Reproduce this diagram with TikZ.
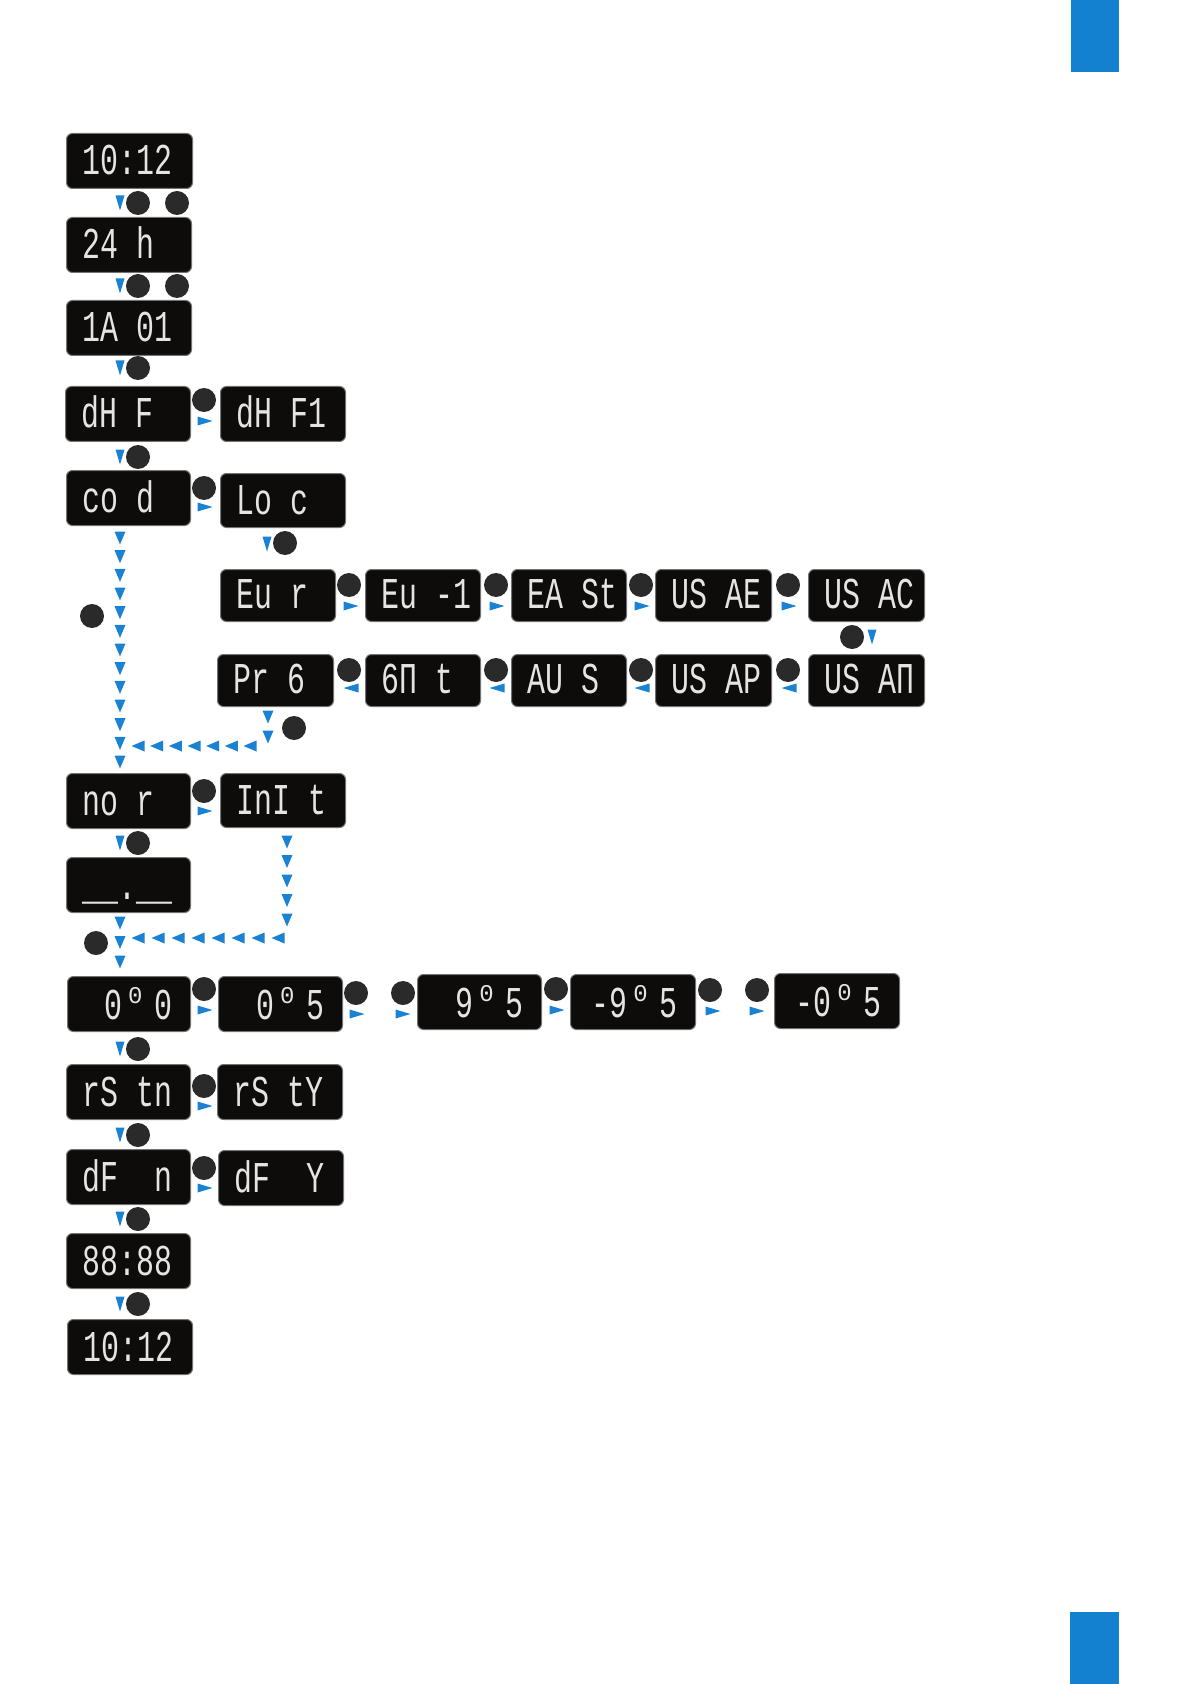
\documentclass[tikz,border=0pt]{standalone}
\usepackage{fontspec}
\usetikzlibrary{calc}
\newfontfamily\lcd{Liberation Mono}[FakeStretch=0.68]
\newfontfamily\lcdsm{Liberation Mono}
\definecolor{abl}{HTML}{1A82D2}
\definecolor{bbl}{HTML}{1380D0}
\definecolor{btn}{HTML}{2A2A2A}
\definecolor{lcdbg}{HTML}{0E0B0B}
\definecolor{lcdfg}{HTML}{E4E4E4}
\tikzset{
  disp/.style={draw=black!55, line width=0.5pt, fill=lcdbg, rounded corners=3pt, inner sep=0pt},
  lcdtext/.style={text=lcdfg, inner sep=0pt, font=\lcd\fontsize{22pt}{22pt}\selectfont},
  btnc/.style={circle, fill=btn, minimum size=12pt, inner sep=0pt},
  trd/.pic={\fill[abl] (-4.5,-7.5) -- (4.5,-7.5) -- (0,7.5) -- cycle;},
  trr/.pic={\fill[abl] (-7.5,-4.5) -- (-7.5,4.5) -- (7.5,0) -- cycle;},
  trl/.pic={\fill[abl] (7.5,-4.5) -- (7.5,4.5) -- (-7.5,0) -- cycle;},
  chd/.pic={\fill[abl] (-5.5,-6.5) -- (5.5,-6.5) -- (0,6.5) -- cycle;},
  chl/.pic={\fill[abl] (6.5,-5.5) -- (6.5,5.5) -- (-6.5,0) -- cycle;},
}
\newcommand\dispbox[6]{%
  \node[disp, anchor=north west, minimum width={(#4-#2)*0.5pt}, minimum height={(#5-#3)*0.5pt}] (#1) at (#2,#3) {};
  \node[lcdtext, anchor=base west] (#1t) at ($(#1.south west)+(16,-14)$) {#6};
}
\newcommand\offbox[8]{% name x1 y1 x2 y2 pre small post
  \node[disp, anchor=north west, minimum width={(#4-#2)*0.5pt}, minimum height={(#5-#3)*0.5pt}] (#1) at (#2,#3) {};
  \node[lcdtext, anchor=base east] (#1t) at ($(#1.south east)+(-18,-13)$)
    {#6\kern3pt\raisebox{8pt}{\lcdsm\fontsize{12pt}{12pt}\selectfont #7}\kern6pt #8};
}
\newcommand\btnat[3]{\node[btnc] (#1) at (#2,#3) {};}
\begin{document}
\begin{tikzpicture}[x=0.5pt,y=-0.5pt]
\useasboundingbox (0,0) rectangle (1191,1684);
\fill[white] (0,0) rectangle (1191,1684);
\fill[bbl] (1071,0) rectangle (1119,72);
\fill[bbl] (1070,1612) rectangle (1119,1684);

% left column
\dispbox{b1}{66}{133}{192}{188}{10:12}
\dispbox{b2}{66}{217}{191}{272}{24~h}
\dispbox{b3}{66}{300}{191}{355}{1A~01}
\dispbox{b4}{65}{386}{190}{441}{dH~F}
\dispbox{b5}{220}{386}{345}{441}{dH~F1}
\dispbox{b6}{66}{470}{190}{525}{co~d}
\dispbox{b7}{220}{473}{345}{527}{Lo~c}
% zone rows
\dispbox{z1}{220}{569}{335}{621}{Eu~r}
\dispbox{z2}{365}{569}{480}{621}{Eu~-1}
\dispbox{z3}{511}{569}{626}{621}{EA~St}
\dispbox{z4}{655}{569}{771}{621}{US~AE}
\dispbox{z5}{808}{569}{924}{621}{US~AC}
\dispbox{z6}{808}{654}{924}{706}{US~AΠ}
\dispbox{z7}{655}{654}{771}{706}{US~AP}
\dispbox{z8}{511}{654}{626}{706}{AU~S}
\dispbox{z9}{365}{654}{480}{706}{6Π~t}
\dispbox{z10}{217}{654}{333}{706}{Pr~6}
% nor / init
\dispbox{n1}{66}{773}{190}{828}{no~r}
\dispbox{n2}{220}{773}{345}{827}{InI~t}
\dispbox{n3}{66}{857}{190}{912}{\_\_.\_\_}
% offsets
\offbox{o1}{67}{976}{190}{1031}{0}{0}{0}
\offbox{o2}{218}{976}{342}{1031}{0}{0}{5}
\offbox{o3}{417}{974}{541}{1029}{9}{0}{5}
\offbox{o4}{570}{974}{695}{1029}{-9}{0}{5}
\offbox{o5}{774}{973}{899}{1028}{-0}{0}{5}
% lower column
\dispbox{r1}{66}{1064}{190}{1119}{rS~tn}
\dispbox{r2}{217}{1064}{342}{1119}{rS~tY}
\dispbox{d1}{66}{1149}{190}{1204}{dF~~n}
\dispbox{d2}{218}{1150}{343}{1205}{dF~~Y}
\dispbox{e1}{66}{1233}{190}{1288}{88:88}
\dispbox{e2}{67}{1319}{192}{1374}{10:12}

% buttons and single markers
\btnat{k1}{138}{203}\btnat{k2}{177}{203}\pic at (120,203) {trd};
\btnat{k3}{138}{286}\btnat{k4}{177}{286}\pic at (120,286) {trd};
\btnat{k5}{138}{368}\pic at (120,368) {trd};
\btnat{k6}{204}{400}\pic at (205,421) {trr};
\btnat{k7}{138}{457}\pic at (120,457) {trd};
\btnat{k8}{204}{488}\pic at (205,507) {trr};
\btnat{k9}{285}{543}\pic at (267,544) {trd};
% row 1
\btnat{k10}{349}{585}\pic at (351,606) {trr};
\btnat{k11}{496}{585}\pic at (497,606) {trr};
\btnat{k12}{641}{585}\pic at (642,606) {trr};
\btnat{k13}{788}{585}\pic at (789,606) {trr};
\btnat{k14}{852}{637}\pic at (872,637) {trd};
% row 2
\btnat{k15}{349}{670}\pic at (351,688) {trl};
\btnat{k16}{496}{670}\pic at (497,688) {trl};
\btnat{k17}{641}{670}\pic at (642,688) {trl};
\btnat{k18}{788}{670}\pic at (789,688) {trl};
\btnat{k19}{294}{728}
\btnat{k20}{92}{616}
% nor
\btnat{k21}{204}{791}\pic at (205,811) {trr};
\btnat{k22}{138}{843}\pic at (120,843) {trd};
\btnat{k23}{96}{943}
% offsets row
\btnat{k24}{204}{989}\pic at (205,1010) {trr};
\btnat{k25}{356}{993}\pic at (357,1014) {trr};
\btnat{k26}{403}{993}\pic at (403,1014) {trr};
\btnat{k27}{556}{989}\pic at (557,1010) {trr};
\btnat{k28}{710}{990}\pic at (713,1011) {trr};
\btnat{k29}{757}{990}\pic at (757,1011) {trr};
% lower
\btnat{k30}{138}{1049}\pic at (120,1049) {trd};
\btnat{k31}{204}{1086}\pic at (205,1106) {trr};
\btnat{k32}{138}{1135}\pic at (120,1135) {trd};
\btnat{k33}{204}{1168}\pic at (205,1188) {trr};
\btnat{k34}{138}{1219}\pic at (120,1219) {trd};
\btnat{k35}{138}{1304}\pic at (120,1304) {trd};

% dashed chains
\coordinate (ca) at (120,538); \coordinate (cb) at (120,762);
\foreach \i in {0,...,12} \pic at ($(ca)!\i/12!(cb)$) {chd};
\coordinate (pa) at (268,717); \coordinate (pb) at (268,737);
\foreach \i in {0,1} \pic at ($(pa)!\i!(pb)$) {chd};
\coordinate (ha) at (250,746); \coordinate (hb) at (138,746);
\foreach \i in {0,...,6} \pic at ($(ha)!\i/6!(hb)$) {chl};
\coordinate (ia) at (287,842); \coordinate (ib) at (287,920);
\foreach \i in {0,...,4} \pic at ($(ia)!\i/4!(ib)$) {chd};
\coordinate (ja) at (278,938); \coordinate (jb) at (138,938);
\foreach \i in {0,...,7} \pic at ($(ja)!\i/7!(jb)$) {chl};
\coordinate (ma) at (120,923); \coordinate (mb) at (120,962);
\foreach \i in {0,...,2} \pic at ($(ma)!\i/2!(mb)$) {chd};
\end{tikzpicture}
\end{document}
